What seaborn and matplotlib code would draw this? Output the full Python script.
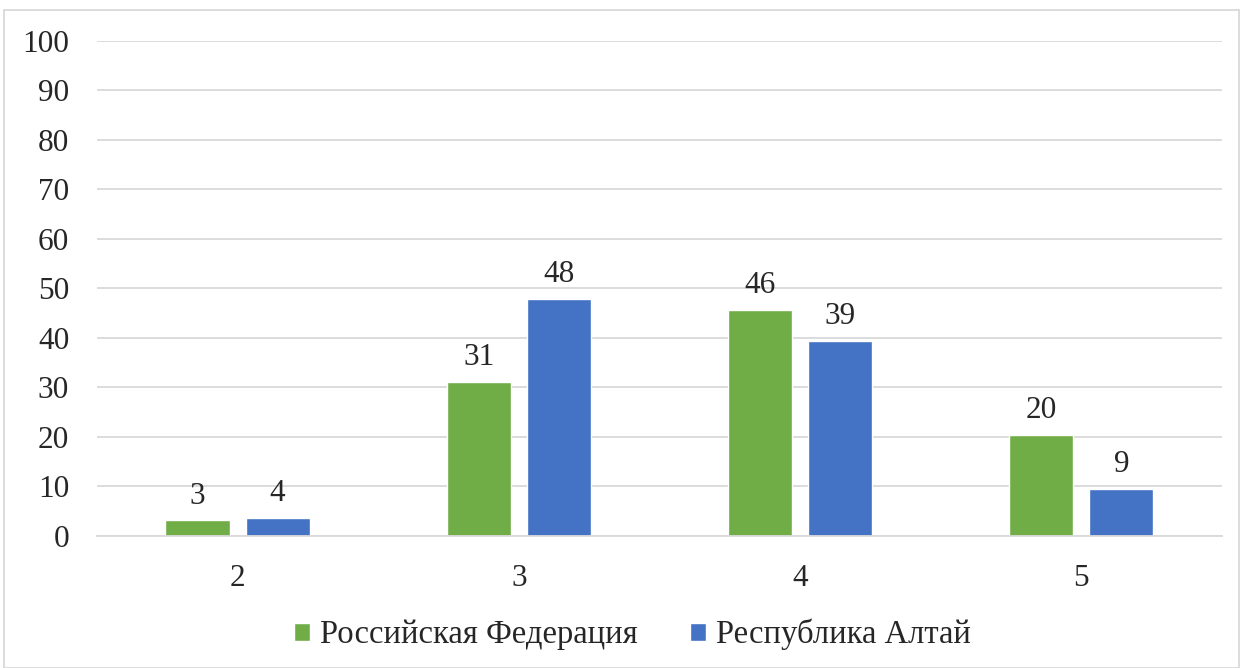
import pandas as pd
import seaborn as sns
import matplotlib.pyplot as plt
from matplotlib.patches import Rectangle

# Data
grades = ['2', '3', '4', '5']
rf_values = [3.1, 31.1, 45.6, 20.4]
altai_values = [3.6, 47.9, 39.3, 9.4]
rf_labels = ['3', '31', '46', '20']
altai_labels = ['4', '48', '39', '9']
series = ['Российская Федерация', 'Республика Алтай']
y_ticks = list(range(0, 101, 10))

df = pd.DataFrame({
    'grade': grades * 2,
    'value': rf_values + altai_values,
    'series': [series[0]] * 4 + [series[1]] * 4,
})

sns.set_style('white')
plt.rcParams['font.family'] = ['Liberation Serif', 'DejaVu Serif']

fig = plt.figure(figsize=(12.43, 6.68), dpi=100)
ax = fig.add_axes([0.078, 0.198, 0.905, 0.741])

palette = {series[0]: '#70ad47', series[1]: '#4472c4'}
sns.barplot(data=df, x='grade', y='value', hue='series', palette=palette,
            width=0.57, gap=0.2, saturation=1, ax=ax, legend=True)

# Value labels
for cont, labels in zip(ax.containers, [rf_labels, altai_labels]):
    ax.bar_label(cont, labels=labels, padding=7, fontsize=22.5)

ax.set_ylim(0, 100)
ax.set_yticks(y_ticks)
ax.set_xlim(-0.5, 3.5)
ax.yaxis.grid(True, color='#d9d9d9', linewidth=1.3)
ax.set_axisbelow(True)
for s in ['top', 'right', 'left']:
    ax.spines[s].set_visible(False)
ax.spines['bottom'].set_color('#d9d9d9')
ax.spines['bottom'].set_linewidth(1.3)
ax.tick_params(axis='both', length=0, labelsize=22.5)
ax.tick_params(axis='y', pad=20)
ax.tick_params(axis='x', pad=20)
ax.set_xlabel('')
ax.set_ylabel('')

leg = ax.legend(loc='center', bbox_to_anchor=(0.476, -0.2), ncol=2, frameon=False,
                fontsize=23.5, handlelength=0.5, handleheight=0.5,
                handletextpad=0.3, columnspacing=1.6)

# Outer chart border
fig.patches.append(Rectangle((0.003, 0.0), 0.994, 0.985, transform=fig.transFigure,
                             fill=False, edgecolor='#d9d9d9', linewidth=1.3))

fig.savefig('out.png', dpi=100)
